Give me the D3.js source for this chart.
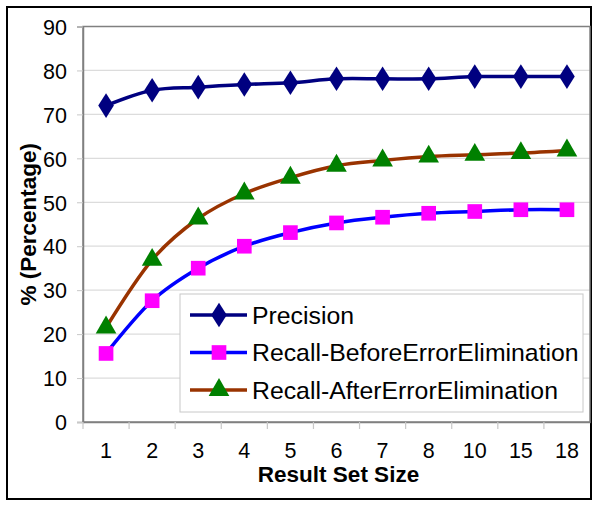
<!DOCTYPE html>
<html><head><meta charset="utf-8">
<script src="https://cdn.jsdelivr.net/npm/d3@7"></script>
<style>html,body{margin:0;padding:0;background:#fff;}svg{display:block;font-family:"Liberation Sans",Arial,sans-serif;}</style>
</head><body>
<svg id="c" width="600" height="506"></svg>
<script>
const categories = ["1","2","3","4","5","6","7","8","10","15","18"];
const precision = [72.0, 75.5, 76.2, 76.8, 77.2, 78.1, 78.1, 78.1, 78.6, 78.6, 78.6];
const recallBefore = [15.6, 27.6, 35.0, 40.0, 43.1, 45.3, 46.6, 47.5, 47.9, 48.3, 48.3];
const recallAfter = [21.5, 36.9, 46.3, 52.0, 55.6, 58.3, 59.5, 60.4, 60.8, 61.2, 61.8];
const yTicks = [0,10,20,30,40,50,60,70,80,90];
const seriesNames = ["Precision","Recall-BeforeErrorElimination","Recall-AfterErrorElimination"];

const svg = d3.select("#c");
const L = 83, R = 590, T = 26.5, B = 422;
const x = d3.scaleBand().domain(categories).range([L, R]);
const y = d3.scaleLinear().domain([0, 90]).range([B, T]);

// outer frame
svg.append("rect").attr("x",7).attr("y",7).attr("width",584).attr("height",492)
  .attr("fill","#fff").attr("stroke","#000").attr("stroke-width",2);

// gridlines
svg.append("g").selectAll("line").data(yTicks.filter(d=>d>0)).join("line")
  .attr("x1",L).attr("x2",R).attr("y1",d=>y(d)).attr("y2",d=>y(d))
  .attr("stroke","#dcdcdc").attr("stroke-width",1.2);

// plot border
svg.append("rect").attr("x",L).attr("y",T).attr("width",R-L).attr("height",B-T)
  .attr("fill","none").attr("stroke","#808080").attr("stroke-width",1.5);

// y axis
const yAxis = svg.append("g").attr("transform",`translate(${L},0)`)
  .call(d3.axisLeft(y).tickValues(yTicks).tickSize(6).tickPadding(10));
yAxis.select(".domain").attr("stroke","#808080").attr("stroke-width",1.5);
yAxis.selectAll(".tick line").attr("stroke","#c8c8c8");
yAxis.selectAll("text").attr("font-size",21.5).attr("fill","#000")
  .attr("font-family","'Liberation Sans',Arial,sans-serif").attr("dy","0.36em");

// x axis labels
const xAxis = svg.append("g").attr("transform",`translate(0,${B})`)
  .call(d3.axisBottom(x).tickSize(0).tickPadding(21));
xAxis.select(".domain").attr("stroke","#808080").attr("stroke-width",1.5);
xAxis.selectAll("text").attr("font-size",21.5).attr("fill","#000")
  .attr("font-family","'Liberation Sans',Arial,sans-serif");
// x tick marks at category boundaries
svg.append("g").selectAll("line").data(categories).join("line")
  .attr("x1",d=>x(d)).attr("x2",d=>x(d)).attr("y1",B).attr("y2",B+7)
  .attr("stroke","#c8c8c8").attr("stroke-width",1.2);

// titles
svg.append("text").attr("x",(L+R)/2 + 2).attr("y",482).attr("text-anchor","middle")
  .attr("font-size",22.5).attr("font-weight","bold").text("Result Set Size");
svg.append("text").attr("transform",`translate(36,${(T+B)/2}) rotate(-90)`)
  .attr("text-anchor","middle").attr("font-size",22.5).attr("font-weight","bold")
  .text("% (Percentage)");

const cx = d => x(d) + x.bandwidth()/2;
const line = d3.line().x(d=>cx(d.c)).y(d=>y(d.v)).curve(d3.curveCatmullRom.alpha(0));
const mk = arr => categories.map((c,i)=>({c, v: arr[i]}));

const series = [
  {name: seriesNames[0], data: mk(precision), line:"#000080", fill:"#000080", sym: d3.symbolDiamond, size: 175},
  {name: seriesNames[1], data: mk(recallBefore), line:"#0000ff", fill:"#ff00ff", sym: d3.symbolSquare, size: 215},
  {name: seriesNames[2], data: mk(recallAfter), line:"#993300", fill:"#008000", sym: d3.symbolTriangle, size: 185}
];

series.forEach(s => {
  svg.append("path").datum(s.data).attr("d", line).attr("fill","none")
    .attr("stroke", s.line).attr("stroke-width",3.5);
});
series.forEach(s => {
  svg.append("g").selectAll("path").data(s.data).join("path")
    .attr("d", d3.symbol().type(s.sym).size(s.size))
    .attr("transform", d => `translate(${cx(d.c)},${y(d.v)})` + (s.sym===d3.symbolDiamond ? " scale(1.1,1)" : ""))
    .attr("fill", s.fill);
});

// legend
const lg = svg.append("g");
lg.append("rect").attr("x",180).attr("y",294).attr("width",403).attr("height",118)
  .attr("fill","#fff").attr("stroke","#c8c8c8").attr("stroke-width",1);
series.forEach((s,i) => {
  const yy = 315 + i*37.5;
  lg.append("line").attr("x1",190).attr("x2",247).attr("y1",yy).attr("y2",yy)
    .attr("stroke",s.line).attr("stroke-width",3.5);
  lg.append("path").attr("d", d3.symbol().type(s.sym).size(s.size))
    .attr("transform",`translate(219,${yy})` + (s.sym===d3.symbolDiamond ? " scale(1.1,1)" : ""))
    .attr("fill", s.fill);
  lg.append("text").attr("x",252).attr("y",yy).attr("dy","0.36em")
    .attr("font-size",24.8).text(s.name);
});
</script>
</body></html>
